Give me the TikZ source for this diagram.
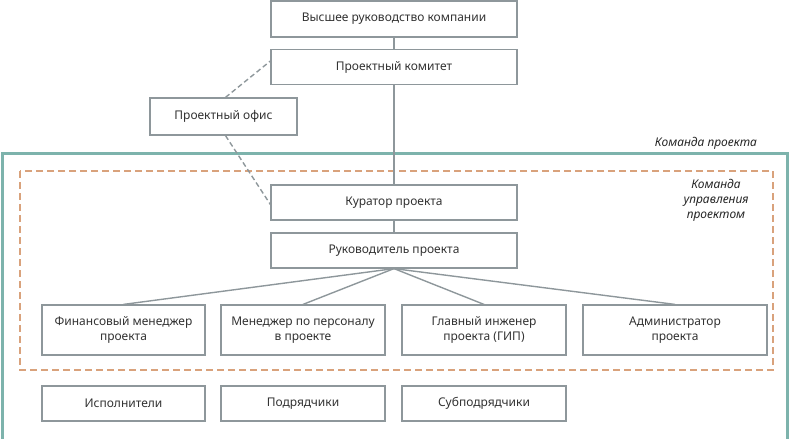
\documentclass[tikz,border=0pt]{standalone}
\usepackage{fontspec}
\setmainfont{Noto Sans}
\usetikzlibrary{calc}
\definecolor{boxgray}{HTML}{8E979B}
\definecolor{teamteal}{HTML}{7DB3AC}
\definecolor{mgmtorange}{HTML}{D9A27C}
\newcommand{\boxfont}{\fontsize{12}{15}\selectfont}
\tikzset{%
        box/.style = {draw = boxgray, line width = 1.2pt, fill = white,
                      text = black!80, font = \boxfont, align = center, inner sep = 0pt},
        link/.style = {draw = boxgray, line width = 1.4pt},
        dashlink/.style = {link, dashed, dash pattern = on 5pt off 3pt}
}

\begin{document}
\begin{tikzpicture}[x=1pt, y=-1pt]
        \useasboundingbox (0,0) rectangle (790,439);
        % frames
        \draw[teamteal, line width = 3pt] (2,153) rectangle (787,445);
        \draw[mgmtorange, line width = 2pt, dash pattern = on 7pt off 4pt] (20,171) rectangle (773,370);
        \node[font = \boxfont\itshape, text = black!85] (team) at (706,143) {Команда проекта};
        \node[font = \boxfont\itshape, text = black!85, align = center] (mgmt) at (716,200)
                {Команда\\управления\\проектом};
        % boxes
        \node[box, minimum width = 246pt, minimum height = 36pt] (top) at (394,19) {Высшее руководство компании};
        \node[box, minimum width = 246pt, minimum height = 35pt] (comm) at (394,67) {Проектный комитет};
        \node[box, minimum width = 147pt, minimum height = 37pt] (office) at (223.5,116.5) {Проектный офис};
        \node[box, minimum width = 246pt, minimum height = 35pt] (cur) at (394,202.5) {Куратор проекта};
        \node[box, minimum width = 246pt, minimum height = 35pt] (head) at (394,250.5) {Руководитель проекта};
        \node[box, minimum width = 163pt, minimum height = 50pt] (fin) at (123.5,330) {Финансовый менеджер\\проекта};
        \node[box, minimum width = 164pt, minimum height = 50pt] (hr) at (303,330) {Менеджер по персоналу\\в проекте};
        \node[box, minimum width = 164pt, minimum height = 50pt] (eng) at (484,330) {Главный инженер\\проекта (ГИП)};
        \node[box, minimum width = 184pt, minimum height = 50pt] (adm) at (675,330) {Администратор\\проекта};
        \node[box, minimum width = 163pt, minimum height = 35pt] (exec) at (123.5,403.5) {Исполнители};
        \node[box, minimum width = 164pt, minimum height = 35pt] (contr) at (303,403.5) {Подрядчики};
        \node[box, minimum width = 164pt, minimum height = 35pt] (sub) at (484,403.5) {Субподрядчики};
        % connectors
        \draw[link] (top) -- (comm);
        \draw[link] (comm) -- (cur);
        \draw[link] (cur) -- (head);
        \foreach \t in {fin, hr, eng, adm}
                \draw[link] (head.south) -- (\t.north);
        \draw[dashlink] ($(office.north)+(2,0)$) -- ($(comm.west)+(0,-6)$);
        \draw[dashlink] ($(office.south)+(2,0)$) -- ($(cur.west)+(0,2)$);
\end{tikzpicture}
\end{document}
